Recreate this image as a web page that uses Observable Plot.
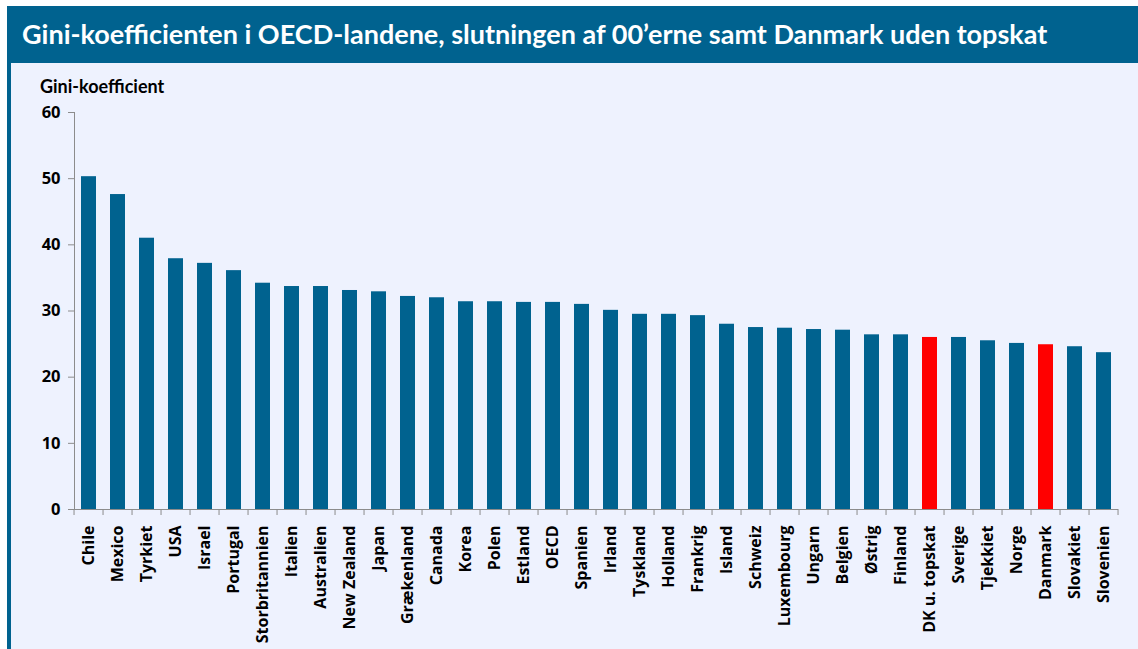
<!DOCTYPE html>
<html>
<head>
<meta charset="utf-8">
<script src="https://cdn.jsdelivr.net/npm/d3@7"></script>
<script src="https://cdn.jsdelivr.net/npm/@observablehq/plot@0.6"></script>
<style>
  html, body { margin: 0; padding: 0; background: #ffffff; }
  #wrap { position: relative; width: 1138px; height: 649px; overflow: hidden; }
  #title {
    position: absolute; left: 7px; top: 6px; width: 1131px; height: 57px;
    background: #00628f; color: #ffffff;
    font-family: Lato, sans-serif; font-weight: bold; font-size: 27px;
    line-height: 56px; padding-left: 15px; box-sizing: border-box; white-space: nowrap;
  }
  #panel {
    position: absolute; left: 7px; top: 63px; width: 1131px; height: 586px;
    background: #eef2fe; border-left: 4px solid #00628f; box-sizing: border-box;
  }
  #ylabel {
    position: absolute; left: 40px; top: 77px;
    font-family: Lato, sans-serif; font-weight: bold; font-size: 18px; line-height: 18px; color: #000;
  }
  #chart { position: absolute; left: 11px; top: 63px; }
</style>
</head>
<body>
<div id="wrap">
  <div id="title">Gini-koefficienten i OECD-landene, slutningen af 00’erne samt Danmark uden topskat</div>
  <div id="panel"></div>
  <div id="ylabel">Gini-koefficient</div>
  <div id="chart"></div>
</div>
<script>
const countries = ["Chile","Mexico","Tyrkiet","USA","Israel","Portugal","Storbritannien","Italien","Australien","New Zealand","Japan","Grækenland","Canada","Korea","Polen","Estland","OECD","Spanien","Irland","Tyskland","Holland","Frankrig","Island","Schweiz","Luxembourg","Ungarn","Belgien","Østrig","Finland","DK u. topskat","Sverige","Tjekkiet","Norge","Danmark","Slovakiet","Slovenien"];
const gini = [50.3,47.6,41.0,37.9,37.2,36.1,34.2,33.7,33.7,33.1,32.9,32.2,32.0,31.4,31.4,31.3,31.3,31.0,30.1,29.5,29.5,29.3,28.0,27.5,27.4,27.2,27.1,26.4,26.4,26.0,26.0,25.5,25.1,24.9,24.6,23.7];
const highlighted = ["DK u. topskat","Danmark"];
const yTicks = [0,10,20,30,40,50,60];

const blue = "#00628f", red = "#ff0000", axisGray = "#8c8c8c";
const padInner = 0.48;

const data = countries.map((c, i) => ({country: c, gini: gini[i], hl: highlighted.includes(c)}));

function categoryTicks(index, scales, values, dims) {
  const x = scales.x, y = scales.y;
  const step = x(countries[1]) - x(countries[0]);
  const xs = countries.map(c => x(c) - step * padInner / 2);
  xs.push(xs[xs.length - 1] + step);
  const y0 = y(0);
  const g = d3.create("svg:g").attr("stroke", axisGray).attr("stroke-width", 1);
  for (const v of xs) {
    g.append("line").attr("x1", v).attr("x2", v).attr("y1", y0).attr("y2", y0 + 6);
  }
  return g.node();
}

const chart = Plot.plot({
  width: 1127,
  height: 586,
  marginLeft: 63,
  marginRight: 20,
  marginTop: 49,
  marginBottom: 140,
  style: {background: "transparent", fontFamily: "'Open Sans', sans-serif", color: "#000"},
  x: {domain: countries, paddingInner: padInner, paddingOuter: padInner / 2, axis: null, label: null},
  y: {domain: [0, 60], axis: null, label: null},
  color: {domain: [false, true], range: [blue, red]},
  marks: [
    Plot.barY(data, {x: "country", y: "gini", fill: "hl"}),
    Plot.frame({anchor: "left", stroke: axisGray}),
    Plot.ruleY([0], {stroke: axisGray}),
    categoryTicks,
    Plot.axisY({ticks: yTicks, tickSize: 6, tickPadding: 8, stroke: axisGray, fill: "#000",
      fontSize: 16.5, fontWeight: "bold", label: null, tickFormat: d => String(d)}),
    Plot.axisX({tickSize: 0, tickPadding: 16, tickRotate: -90, fill: "#000",
      fontSize: 16, fontWeight: "bold", label: null})
  ]
});
document.getElementById("chart").appendChild(chart);
</script>
</body>
</html>
